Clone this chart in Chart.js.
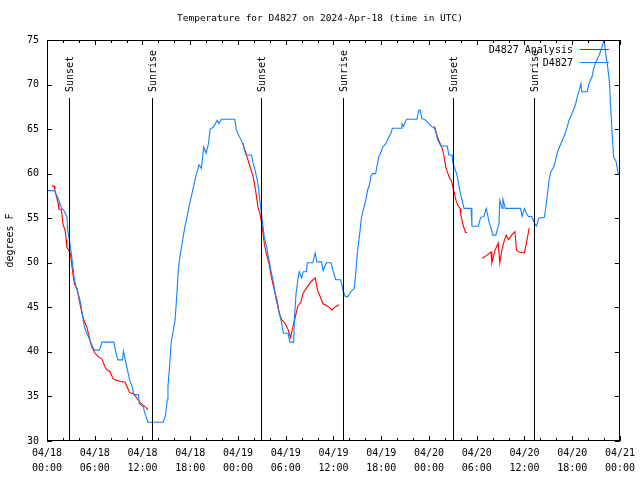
<!DOCTYPE html>
<html>
<head>
<meta charset="utf-8">
<script src="https://cdn.jsdelivr.net/npm/chart.js@4.4.1/dist/chart.umd.min.js"></script>
<style>
  body { margin: 0; background: #fff; }
  canvas { display: block; }
</style>
</head>
<body>
<canvas id="temp-chart" width="640" height="480"></canvas>
<script>
// hours since 2024-04-18 00:00 UTC
const stationHours = [0.0, 0.9, 1.2, 1.5, 1.8, 2.1, 2.5, 2.6, 2.8, 3.0, 3.2, 3.4, 3.6, 3.9, 4.2, 4.5, 4.7, 5.0, 5.4, 5.8, 6.0, 6.6, 6.9, 8.4, 8.7, 8.9, 9.5, 9.6, 9.8, 10.1, 10.4, 10.7, 10.9, 11.5, 11.6, 12.1, 12.3, 12.7, 14.6, 14.9, 15.1, 15.2, 15.4, 15.6, 16.1, 16.3, 16.5, 16.7, 17.3, 17.9, 18.4, 18.7, 19.1, 19.4, 19.7, 20.0, 20.3, 20.5, 20.9, 21.4, 21.6, 21.9, 23.6,
  23.8, 24.2, 24.6, 25.0, 25.7, 25.9, 26.2, 26.5, 26.7, 26.9, 27.1, 27.3, 27.6, 27.8, 28.0, 28.2, 28.4, 28.6, 28.8, 29.0, 29.2, 29.4, 29.7, 30.3, 30.5, 31.0, 31.1, 31.3, 31.5, 31.7, 32.0, 32.2, 32.6, 32.7, 33.4, 33.7, 33.9, 34.5, 34.7, 35.1, 35.7, 35.9, 36.3, 36.9, 37.2, 37.5, 37.8, 38.2, 38.6, 38.8, 39.0, 39.3, 39.5, 39.9, 40.1, 40.3, 40.5, 40.7, 40.9, 41.3, 41.5, 41.7, 42.0, 42.2, 42.6, 42.9, 43.2, 43.4, 44.5, 44.6, 44.8, 45.0, 45.2, 46.5, 46.7, 46.9, 47.1, 47.6,
  48.0, 48.3, 48.7, 48.9, 49.1, 49.3, 49.5, 50.3, 50.5, 50.9, 51.0, 51.4, 51.6, 51.8, 52.0, 52.2, 52.4, 53.3, 53.4, 54.2, 54.5, 54.9, 55.2, 55.6, 55.8, 56.0, 56.4, 56.8, 56.9, 57.2, 57.3, 57.6, 59.5, 59.7, 60.0, 60.2, 60.5, 60.9, 61.1, 61.3, 61.5, 61.8, 62.5, 62.7, 62.9, 63.1, 63.3, 63.7, 63.9, 64.1, 64.4, 64.8, 65.1, 65.4, 65.6, 66.0, 66.4, 66.6, 66.9, 67.1, 67.2, 67.9, 68.1, 68.5, 68.7, 69.0, 69.4, 69.7, 70.0, 70.2, 70.4, 70.7, 70.8, 71.0, 71.2, 71.5, 71.7, 71.8, 72.0];
const stationTemps = [58.1, 58.1, 57.6, 57.0, 56.2, 55.9, 55.2, 53.7, 52.6, 51.4, 50.0, 48.4, 47.5, 46.6, 45.6, 43.9, 42.8, 42.1, 41.3, 40.4, 40.2, 40.2, 41.1, 41.1, 39.8, 39.1, 39.1, 40.1, 39.3, 38.0, 36.8, 36.1, 35.2, 35.2, 34.2, 33.8, 33.1, 32.1, 32.1, 32.9, 34.6, 36.1, 38.3, 41.0, 43.6, 46.2, 49.2, 50.7, 53.9, 56.5, 58.5, 59.7, 61.0, 60.6, 63.0, 62.3, 63.4, 65.0, 65.2, 66.0, 65.6, 66.1, 66.1,
  64.9, 64.1, 63.4, 62.1, 62.1, 61.2, 60.2, 58.9, 57.4, 55.9, 54.4, 52.9, 51.8, 50.7, 49.9, 48.8, 48.1, 46.9, 45.8, 45.1, 44.3, 43.6, 42.1, 42.1, 41.1, 41.1, 43.9, 46.6, 47.9, 49.0, 48.3, 49.0, 49.0, 50.0, 50.0, 51.1, 50.1, 50.1, 49.1, 50.0, 50.0, 49.2, 48.1, 48.1, 46.9, 46.2, 46.2, 46.8, 47.1, 48.8, 51.1, 53.3, 55.0, 56.5, 57.2, 58.2, 58.7, 59.7, 60.0, 60.0, 61.0, 61.9, 62.5, 63.0, 63.4, 64.0, 64.5, 65.1, 65.1, 65.6, 65.3, 65.8, 66.1, 66.1, 67.1, 67.1, 66.2, 66.0,
  65.6, 65.3, 65.1, 64.5, 63.8, 63.4, 63.1, 63.1, 62.1, 62.1, 61.2, 60.2, 59.5, 58.5, 57.6, 56.9, 56.1, 56.1, 54.1, 54.1, 55.1, 55.2, 56.1, 54.4, 53.9, 53.1, 53.1, 54.4, 57.0, 56.1, 57.1, 56.1, 56.1, 55.2, 56.1, 55.6, 55.2, 55.2, 54.8, 54.4, 54.1, 55.0, 55.1, 56.3, 57.8, 59.3, 60.2, 60.8, 61.5, 62.3, 63.0, 63.8, 64.5, 65.3, 66.0, 66.8, 67.7, 68.5, 69.4, 70.1, 69.2, 69.2, 70.1, 70.9, 71.8, 72.6, 73.3, 74.1, 75.0, 73.5, 72.4, 70.1, 67.9, 64.9, 61.9, 61.4, 60.4, 60.0, 60.0];

// analysis series, null temps break the line
const analysisHours = [0.6, 0.9, 1.0, 1.2, 1.4, 1.5, 1.8, 2.0, 2.3, 2.4, 2.5, 2.9, 3.1, 3.3, 3.5, 3.8, 4.0, 4.4, 4.7, 5.0, 5.3, 5.6, 6.0, 6.4, 6.9, 7.3, 7.5, 7.9, 8.3, 8.7, 9.2, 9.8, 10.1, 10.4, 10.9, 11.3, 11.7, 12.1, 12.5, 12.7,
  18.0,
  24.6, 25.0, 25.5, 25.9, 26.2, 26.5, 26.7, 27.0, 27.3, 27.6, 27.9, 28.2, 28.6, 28.9, 29.2, 29.5, 29.9, 30.3, 30.6, 31.0, 31.2, 31.5, 31.9, 32.2, 32.7, 33.2, 33.7, 34.0, 34.7, 35.3, 35.8, 36.3, 36.7,
  42.0,
  48.7, 49.1, 49.5, 49.7, 49.9, 50.1, 50.3, 50.6, 50.8, 51.0, 51.2, 51.4, 51.6, 51.9, 52.0, 52.2, 52.4, 52.6, 52.8,
  53.8,
  54.7, 55.2, 55.8, 55.9, 56.3, 56.7, 56.9, 57.2, 57.5, 57.7, 58.0, 58.4, 58.8, 59.0, 59.3, 60.0, 60.2, 60.6];
const analysisTemps = [58.6, 58.6, 58.1, 57.4, 56.7, 56.0, 56.0, 54.4, 53.5, 52.6, 51.7, 51.2, 49.9, 48.4, 47.5, 47.1, 46.0, 44.3, 43.4, 42.8, 41.7, 40.6, 39.9, 39.5, 39.2, 38.3, 38.0, 37.8, 37.0, 36.8, 36.7, 36.6, 36.0, 35.4, 35.3, 34.8, 34.3, 34.0, 33.7, 33.5,
  null,
  63.4, 62.3, 60.8, 59.7, 58.2, 56.3, 55.7, 54.4, 52.2, 50.9, 49.9, 48.4, 46.8, 45.8, 44.3, 43.6, 43.2, 42.5, 41.6, 43.2, 43.9, 45.1, 45.6, 46.6, 47.3, 47.9, 48.3, 46.9, 45.4, 45.1, 44.7, 45.1, 45.3,
  null,
  65.3, 64.0, 63.2, 62.7, 61.9, 60.8, 60.2, 59.5, 59.3, 58.5, 57.8, 57.0, 56.5, 56.1, 55.4, 54.6, 53.9, 53.4, 53.4,
  null,
  50.5, 50.8, 51.2, 50.0, 51.4, 52.2, 50.0, 51.6, 52.6, 53.1, 52.6, 53.1, 53.5, 51.4, 51.2, 51.1, 52.0, 53.9];

const sunHours = [2.8, 13.2, 26.9, 37.2, 51.0, 61.25];
const sunLabels = ['Sunset', 'Sunrise', 'Sunset', 'Sunrise', 'Sunset', 'Sunrise'];

const xTickLabels = [['04/18', '00:00'], ['04/18', '06:00'], ['04/18', '12:00'], ['04/18', '18:00'],
  ['04/19', '00:00'], ['04/19', '06:00'], ['04/19', '12:00'], ['04/19', '18:00'],
  ['04/20', '00:00'], ['04/20', '06:00'], ['04/20', '12:00'], ['04/20', '18:00'], ['04/21', '00:00']];

const titleText = 'Temperature for D4827 on 2024-Apr-18 (time in UTC)';

const FONT = '"DejaVu Sans Mono", "Liberation Mono", monospace';

function toPoints(hours, temps) {
    return hours.map((h, i) => ({ x: h, y: temps[i] }));
}

// title, frame, inward ticks, sunrise/sunset markers, key
const overlay = {
    id: 'overlay',
    afterDatasetsDraw(chart) {
        const ctx = chart.ctx;
        const a = chart.chartArea;
        const x = chart.scales.x;
        const y = chart.scales.y;
        ctx.save();
        ctx.strokeStyle = '#000';
        ctx.lineWidth = 1;

        ctx.beginPath();
        for (let h = 0; h <= 72; h += 2) {
            const px = Math.round(x.getPixelForValue(h)) + 0.5;
            const len = h % 6 === 0 ? 5 : 3;
            ctx.moveTo(px, a.bottom); ctx.lineTo(px, a.bottom - len);
            ctx.moveTo(px, a.top); ctx.lineTo(px, a.top + len);
        }
        for (let v = 30; v <= 75; v += 5) {
            const py = Math.round(y.getPixelForValue(v)) + 0.5;
            ctx.moveTo(a.left, py); ctx.lineTo(a.left + 5, py);
            ctx.moveTo(a.right, py); ctx.lineTo(a.right - 5, py);
        }
        ctx.stroke();

        ctx.strokeRect(Math.round(a.left) + 0.5, Math.round(a.top) + 0.5,
            Math.round(a.right - a.left) - 1, Math.round(a.bottom - a.top) - 1);

        ctx.fillStyle = '#000';
        ctx.textAlign = 'center';
        ctx.textBaseline = 'middle';
        ctx.font = '9.5px ' + FONT;
        ctx.fillText(titleText, chart.width / 2, 19);

        ctx.font = '10px ' + FONT;
        sunHours.forEach((h, i) => {
            const px = Math.round(x.getPixelForValue(h)) + 0.5;
            ctx.beginPath();
            ctx.moveTo(px, a.top + 58);
            ctx.lineTo(px, a.bottom);
            ctx.stroke();
            ctx.save();
            ctx.translate(px + 1, a.top + 52);
            ctx.rotate(-Math.PI / 2);
            ctx.textAlign = 'left';
            ctx.textBaseline = 'middle';
            ctx.fillText(sunLabels[i], 0, 0);
            ctx.restore();
        });

        // key
        ctx.textAlign = 'right';
        ctx.textBaseline = 'middle';
        chart.data.datasets.forEach((ds, i) => {
            const ky = a.top + 9.5 + 13 * i;
            ctx.fillStyle = '#000';
            ctx.fillText(ds.label, a.right - 47, ky + 1);
            ctx.strokeStyle = ds.borderColor;
            ctx.beginPath();
            ctx.moveTo(a.right - 40, ky);
            ctx.lineTo(a.right - 11, ky);
            ctx.stroke();
        });
        ctx.restore();
    }
};

new Chart(document.getElementById('temp-chart'), {
    type: 'line',
    data: {
        datasets: [{
            label: 'D4827 Analysis',
            data: toPoints(analysisHours, analysisTemps),
            borderColor: '#ff0000',
            borderWidth: 1.1,
            pointRadius: 0,
            spanGaps: false,
            order: 1
        }, {
            label: 'D4827',
            data: toPoints(stationHours, stationTemps),
            borderColor: '#0f82ff',
            borderWidth: 1.1,
            pointRadius: 0,
            order: 0
        }]
    },
    options: {
        responsive: false,
        animation: false,
        devicePixelRatio: 1,
        layout: { padding: { left: 0, right: 19, top: 40, bottom: 0 } },
        plugins: {
            legend: { display: false },
            tooltip: { enabled: false },
            title: { display: false }
        },
        scales: {
            x: {
                type: 'linear',
                min: 0,
                max: 72,
                grid: { display: false, drawTicks: false },
                border: { display: false },
                ticks: {
                    stepSize: 6,
                    maxRotation: 0,
                    autoSkip: false,
                    padding: 5,
                    color: '#000',
                    font: { family: FONT, size: 10, lineHeight: 1.5 },
                    callback: (v) => xTickLabels[v / 6]
                },
                afterFit: (scale) => { scale.height = 39; }
            },
            y: {
                min: 30,
                max: 75,
                grid: { display: false, drawTicks: false },
                border: { display: false },
                ticks: {
                    stepSize: 5,
                    padding: 8,
                    color: '#000',
                    font: { family: FONT, size: 10 }
                },
                title: {
                    display: true,
                    text: 'degrees F',
                    color: '#000',
                    font: { family: FONT, size: 10 },
                    padding: { top: 4, bottom: 0 }
                },
                afterFit: (scale) => { scale.width = 47; }
            }
        }
    },
    plugins: [overlay]
});
</script>
</body>
</html>
